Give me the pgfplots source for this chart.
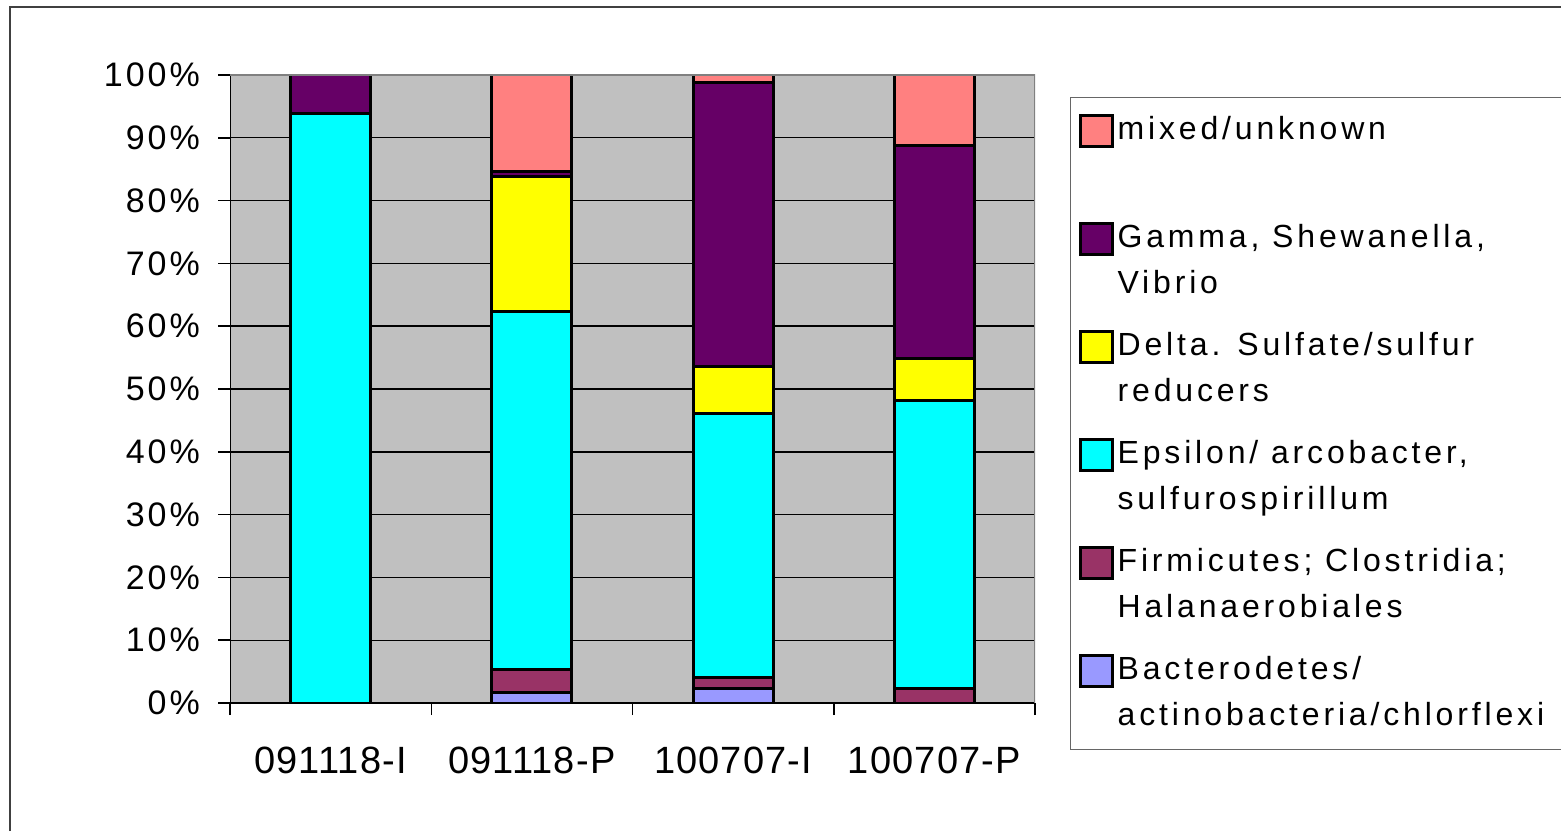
\documentclass[border=0pt]{standalone}
\usepackage{pgfplots}
\pgfplotsset{compat=1.18}
\usepackage{fontspec}
\setmainfont{Liberation Sans}
\newfontfamily\legfont[LetterSpace=12]{Liberation Sans}
\newfontfamily\yfont[LetterSpace=9]{Liberation Sans}
\newfontfamily\xfont[LetterSpace=3]{Liberation Sans}
\definecolor{bgray}{HTML}{C0C0C0}
\definecolor{cBac}{HTML}{9999FF}
\definecolor{cFir}{HTML}{993366}
\definecolor{cEps}{HTML}{00FFFF}
\definecolor{cDel}{HTML}{FFFF00}
\definecolor{cGam}{HTML}{660066}
\definecolor{cMix}{HTML}{FF8080}
\newcommand\twol[2]{\vtop{\hbox to 218pt{\strut#1\hfil}\hbox to 218pt{\strut#2\hfil}}}
\begin{document}
\begin{tikzpicture}
\useasboundingbox (0,0) rectangle (780.5pt,415.5pt);
\draw[line width=1pt, color=black!75] (5pt,0) -- (5pt,412pt) -- (780.5pt,412pt);
\begin{axis}[
  at={(115pt,64pt)}, anchor=south west,
  scale only axis, width=402.5pt, height=314pt,
  ybar stacked, bar width=40pt,
  xmin=-0.5, xmax=3.5, ymin=0, ymax=100,
  xtick={-0.5,0.5,1.5,2.5,3.5}, xticklabels={},
  extra x ticks={0,1,2,3},
  extra x tick labels={091118-I,091118-P,100707-I,100707-P},
  extra x tick style={major tick length=0pt},
  ytick={0,10,...,100},
  yticklabels={0\%,10\%,20\%,30\%,40\%,50\%,60\%,70\%,80\%,90\%,100\%},
  xtick pos=lower, ytick pos=left,
  tick align=outside, major tick length=6pt,
  tick style={black, line width=0.75pt},
  ymajorgrids, grid style={black, line width=0.7pt},
  axis background/.style={fill=bgray},
  axis line style={draw=none},
  yticklabel style={font=\fontsize{17}{20}\yfont, anchor=east, xshift=-5.5pt},
  xticklabel style={font=\fontsize{19}{22}\xfont, anchor=base, yshift=-35pt},
  legend style={at={(1.0435,0.965)}, anchor=north west, draw=black!60, line width=0.6pt,
    fill=white, font=\fontsize{16}{23}\legfont, inner xsep=4pt, inner ysep=5pt,
    row sep=8pt, column sep=2pt,
    nodes={inner sep=0pt, text height=16.1pt, text depth=29.9pt},
    cells={anchor=base west}},
  legend image code/.code={\draw[#1, line width=1.5pt] (0pt,-3.5pt) rectangle (16pt,12pt);},
  reverse legend,
]
\draw[color=black!50, line width=1pt] (rel axis cs:0,1) -- (rel axis cs:1,1) -- (rel axis cs:1,0);
\addplot[fill=cBac, draw=black, line width=1.5pt] coordinates {(0,0) (1,1.7) (2,2.3) (3,0)};
\addlegendentry{\twol{Bacterodetes/}{actinobacteria/chlorflexi}}
\addplot[fill=cFir, draw=black, line width=1.5pt] coordinates {(0,0) (1,3.7) (2,1.8) (3,2.3)};
\addlegendentry{\twol{Firmicutes; Clostridia;}{Halanaerobiales}}
\addplot[fill=cEps, draw=black, line width=1.5pt] coordinates {(0,93.8) (1,56.9) (2,42.0) (3,45.8)};
\addlegendentry{\twol{Epsilon/ arcobacter,}{sulfurospirillum}}
\addplot[fill=cDel, draw=black, line width=1.5pt] coordinates {(0,0) (1,21.6) (2,7.5) (3,6.8)};
\addlegendentry{\twol{Delta. Sulfate/sulfur}{reducers}}
\addplot[fill=cGam, draw=black, line width=1.5pt] coordinates {(0,6.2) (1,0.7) (2,45.2) (3,33.9)};
\addlegendentry{\twol{Gamma, Shewanella,}{Vibrio}}
\addplot[fill=cMix, draw=black, line width=1.5pt] coordinates {(0,0) (1,15.4) (2,1.2) (3,11.2)};
\addlegendentry{\twol{mixed/unknown}{}}
\draw[black, line width=1pt] (rel axis cs:0,1) -- (rel axis cs:0,0) -- (rel axis cs:1,0);
\end{axis}
\end{tikzpicture}
\end{document}
